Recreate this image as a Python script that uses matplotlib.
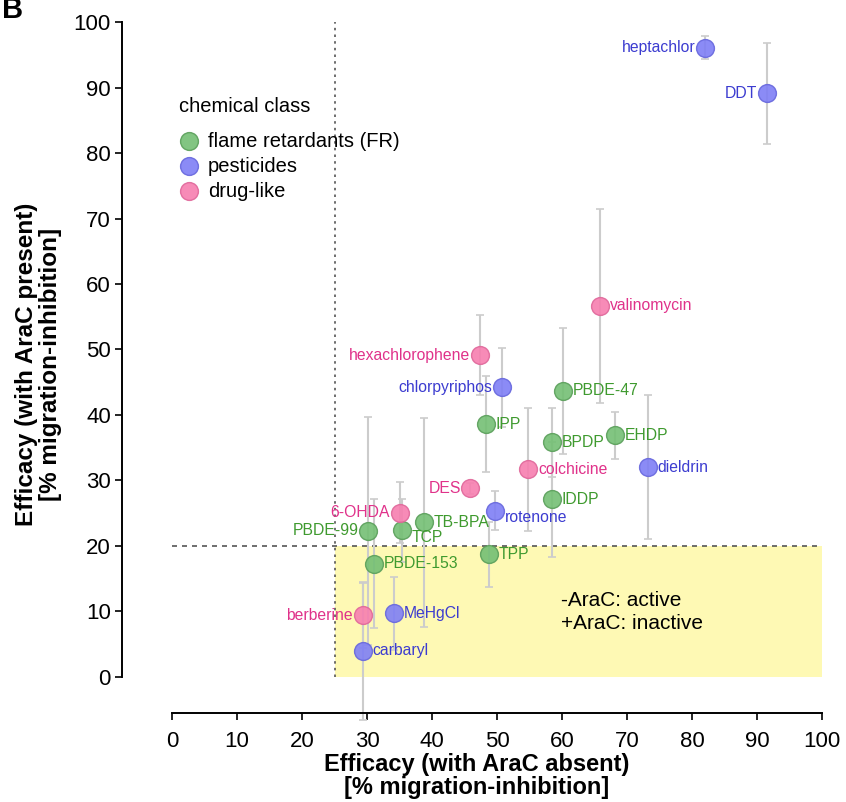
import matplotlib
matplotlib.use('Agg')
import matplotlib.pyplot as plt

plt.rcParams['font.family'] = ['Liberation Sans', 'DejaVu Sans']

# data: x = efficacy AraC absent, y = efficacy AraC present, yerr
fr_names = ['PBDE-47', 'IPP', 'BPDP', 'EHDP', 'IDDP', 'TB-BPA', 'TCP', 'PBDE-99', 'TPP', 'PBDE-153']
fr_x = [60.2, 48.3, 58.4, 68.2, 58.4, 38.8, 35.3, 30.2, 48.8, 31.1]
fr_y = [43.7, 38.6, 35.8, 36.9, 27.1, 23.6, 22.4, 22.3, 18.7, 17.3]
fr_err = [9.6, 7.3, 5.2, 3.6, 8.8, 16.0, 4.8, 17.4, 5.0, 9.8]

pest_names = ['heptachlor', 'DDT', 'chlorpyriphos', 'dieldrin', 'rotenone', 'MeHgCl', 'carbaryl']
pest_x = [82.0, 91.5, 50.7, 73.2, 49.7, 34.2, 29.3]
pest_y = [96.1, 89.1, 44.2, 32.0, 25.4, 9.7, 4.0]
pest_err = [1.7, 7.7, 6.1, 11.0, 3.0, 5.6, 10.5]

drug_names = ['valinomycin', 'hexachlorophene', 'colchicine', 'DES', '6-OHDA', 'berberine']
drug_x = [65.9, 47.3, 54.8, 45.9, 35.0, 29.3]
drug_y = [56.7, 49.1, 31.7, 28.8, 25.1, 9.4]
drug_err = [14.8, 6.1, 9.4, 0.8, 4.6, 5.0]

# labels placed on the left of the point
left_labels = ['heptachlor', 'DDT', 'hexachlorophene', 'chlorpyriphos', 'DES', '6-OHDA', 'PBDE-99', 'berberine']
# labels nudged down
low_labels = ['TCP', 'rotenone']

x_cut = 25
y_cut = 20

classes = [
    ('flame retardants (FR)', fr_names, fr_x, fr_y, fr_err, '#74bf74', '#5a9f5a', '#3f9a2f'),
    ('pesticides', pest_names, pest_x, pest_y, pest_err, '#7f7ff5', '#6767dd', '#3c3cd0'),
    ('drug-like', drug_names, drug_x, drug_y, drug_err, '#f77fb0', '#e0679a', '#e0328a'),
]

fig = plt.figure(figsize=(8.46, 8.02), dpi=100)
ax = fig.add_axes([0.1442, 0.111, 0.8375, 0.8697])

# active / inactive region
ax.fill_between([x_cut, 100], 0, y_cut, color='#fef9b4', lw=0, zorder=0)
ax.vlines(x_cut, 0, 100, colors='#555555', linestyles=(0, (1.5, 2.5)), lw=1.2, zorder=1)
ax.hlines(y_cut, 0, 100, colors='#555555', linestyles=(0, (3, 3)), lw=1.2, zorder=1)
ax.text(59.8, 9.9, '-AraC: active\n+AraC: inactive', fontsize=15, va='center', ha='left',
        linespacing=1.25)

for label, names, xs, ys, errs, fc, ec, tc in classes:
    ax.errorbar(xs, ys, yerr=errs, fmt='none', ecolor='#cccccc', elinewidth=1.5,
                capsize=3, capthick=1.2, zorder=2, clip_on=False)
    ax.scatter(xs, ys, s=165, c=fc, edgecolors=ec, linewidths=1.0, alpha=0.9,
               zorder=3, label=label)
    for n, x, y in zip(names, xs, ys):
        dy = -5 if n in low_labels else 0
        if n in left_labels:
            ax.annotate(n, (x, y), xytext=(-7, dy), textcoords='offset points',
                        ha='right', va='center', fontsize=11.3, color=tc, zorder=4)
        else:
            ax.annotate(n, (x, y), xytext=(7, dy), textcoords='offset points',
                        ha='left', va='center', fontsize=11.3, color=tc, zorder=4)

ax.set_xlim(-7.7, 101.3)
ax.set_ylim(-5.5, 101)
ax.set_xticks(range(0, 101, 10))
ax.set_yticks(range(0, 101, 10))
for s in ['top', 'right']:
    ax.spines[s].set_visible(False)
ax.spines['left'].set_bounds(0, 100)
ax.spines['bottom'].set_bounds(0, 100)
ax.spines['left'].set_linewidth(1.4)
ax.spines['bottom'].set_linewidth(1.4)
ax.tick_params(axis='both', labelsize=16, length=5, width=1.2)
ax.tick_params(axis='x', pad=8)
ax.tick_params(axis='y', pad=3)

ax.set_xlabel('Efficacy (with AraC absent)\n[% migration-inhibition]', fontsize=17,
              fontweight='bold', linespacing=1.0)
ax.xaxis.set_label_coords(0.5, -0.058)
ax.set_ylabel('Efficacy (with AraC present)\n[% migration-inhibition]', fontsize=17.5,
              fontweight='bold', linespacing=1.05)
ax.yaxis.set_label_coords(-0.085, 0.5)

leg = ax.legend(loc='upper left', bbox_to_anchor=(0.066, 0.897), frameon=False,
                title='chemical class', alignment='left', fontsize=14.5,
                title_fontsize=14.5, handletextpad=0.45, labelspacing=0.3,
                borderpad=0, handlelength=1.0)
leg._legend_box.sep = 11

fig.text(0.002, 0.978, 'B', fontsize=21, fontweight='bold', ha='left', va='baseline')

fig.savefig('out.png', dpi=100)
